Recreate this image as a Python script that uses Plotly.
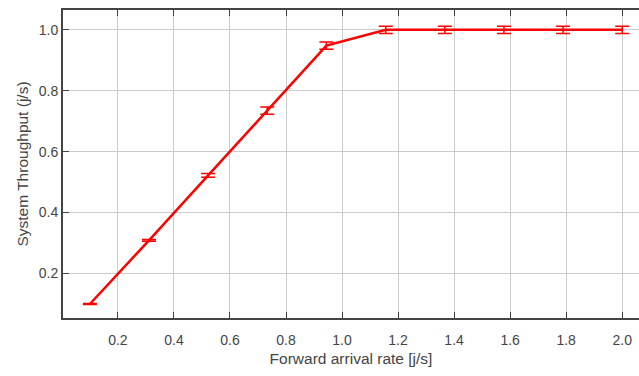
import plotly.graph_objects as go

arrival_rate = [0.1, 0.311, 0.522, 0.733, 0.944, 1.156, 1.367, 1.578, 1.789, 2.0]
throughput = [0.10, 0.309, 0.522, 0.735, 0.948, 1.0, 1.0, 1.0, 1.0, 1.0]
error = [0.002, 0.003, 0.006, 0.012, 0.012, 0.012, 0.012, 0.012, 0.012, 0.012]

x_ticks = [0.2, 0.4, 0.6, 0.8, 1.0, 1.2, 1.4, 1.6, 1.8, 2.0]
y_ticks = [0.2, 0.4, 0.6, 0.8, 1.0]

fig = go.Figure()
fig.add_trace(go.Scatter(
    x=arrival_rate, y=throughput, mode="lines",
    line=dict(color="#ff0000", width=2.5),
    error_y=dict(type="data", array=error, visible=True, color="#ff0000",
                 thickness=1.5, width=7),
    showlegend=False,
))

tick_font = dict(family="Liberation Sans, Arial, sans-serif", size=14, color="#444")
title_font = dict(family="Liberation Sans, Arial, sans-serif", size=15.5, color="#444")
fig.update_layout(
    width=639, height=376,
    margin=dict(l=63, r=0, t=10, b=58),
    paper_bgcolor="white", plot_bgcolor="white",
    font=tick_font,
    xaxis=dict(
        range=[0.004, 2.06], tickvals=x_ticks, ticktext=[f"{v:.1f}" for v in x_ticks],
        tickfont=tick_font, ticklabelstandoff=8,
        showgrid=True, gridcolor="#cccccc", gridwidth=1,
        showline=True, linecolor="#444", linewidth=2, mirror="ticks",
        ticks="inside", ticklen=6, tickcolor="#444", tickwidth=1,
        zeroline=False, automargin=False,
        title=dict(text="Forward arrival rate [j/s]", standoff=6, font=title_font),
    ),
    yaxis=dict(
        range=[0.054, 1.065], tickvals=y_ticks, ticktext=[f"{v:.1f}" for v in y_ticks],
        tickfont=tick_font,
        showgrid=True, gridcolor="#cccccc", gridwidth=1,
        showline=True, linecolor="#444", linewidth=2,
        ticks="inside", ticklen=6, tickcolor="#444", tickwidth=1,
        zeroline=False, automargin=False,
        title=dict(text="System Throughput (j/s)", standoff=6, font=title_font),
    ),
)
fig.write_html("out.html", post_script="document.body.style.margin='0';",
               config={"displayModeBar": False})
